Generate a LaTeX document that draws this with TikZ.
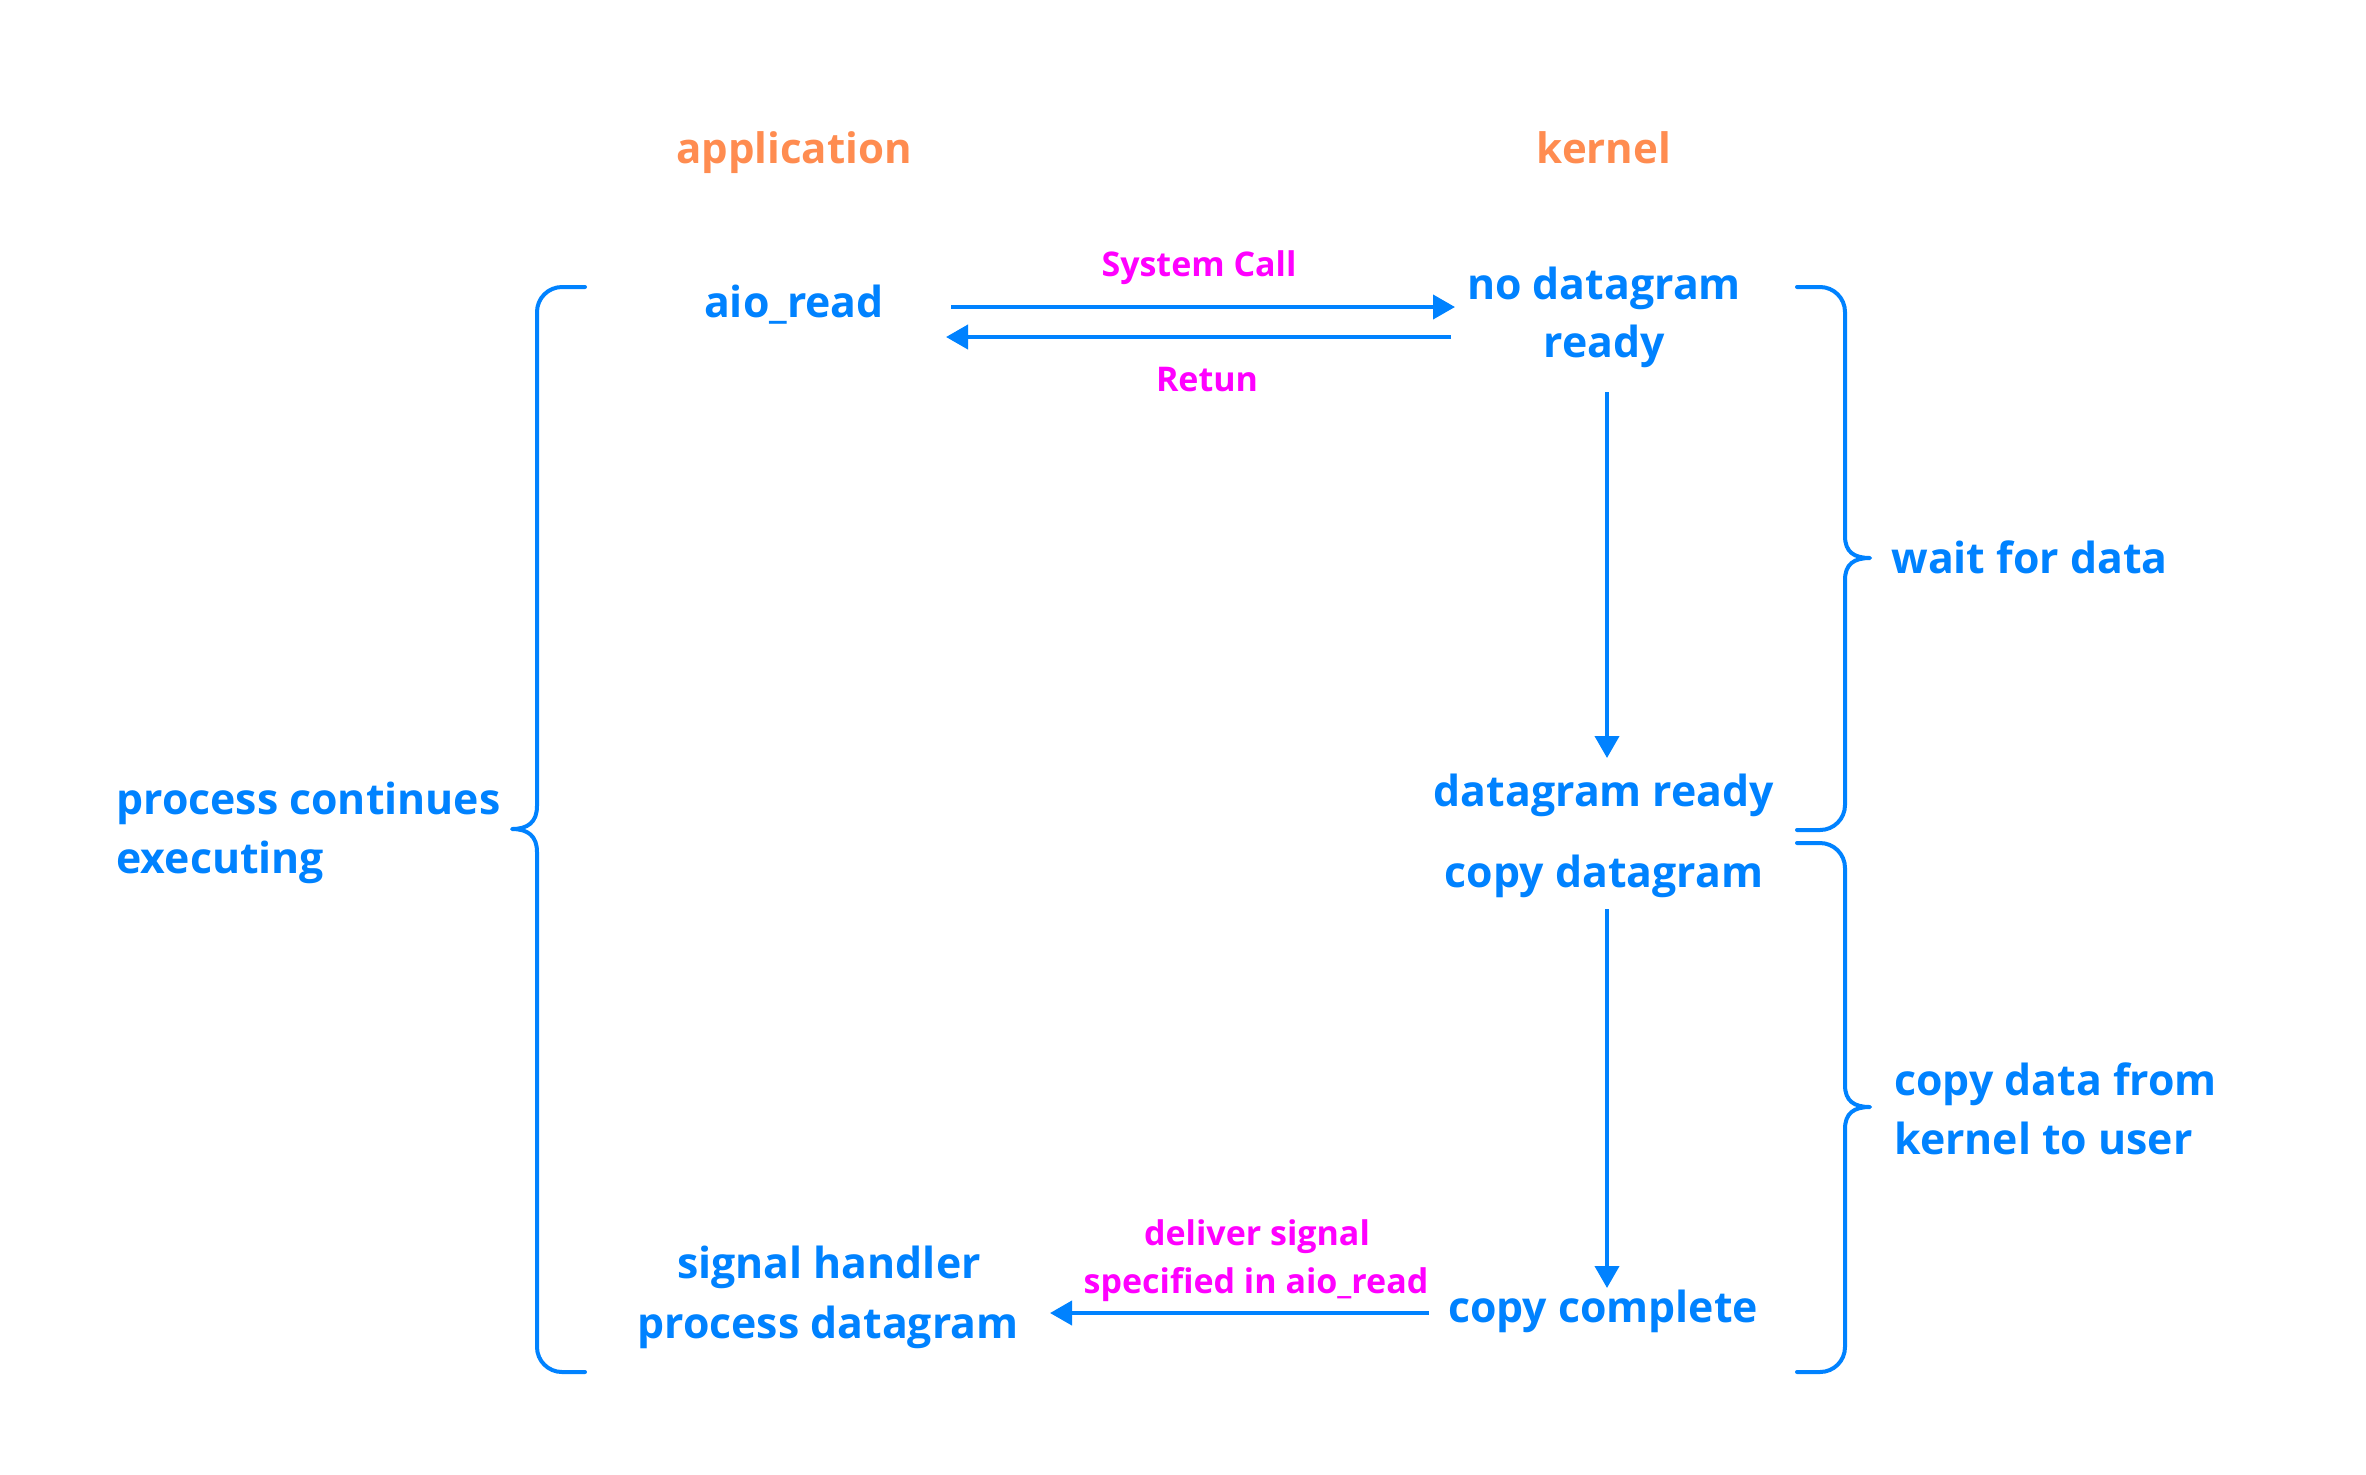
\documentclass[tikz,border=0pt]{standalone}
\usepackage{fontspec}
\setmainfont{Open Sans}
\usetikzlibrary{arrows.meta}
\definecolor{blu}{RGB}{0,130,255}
\definecolor{org}{RGB}{255,140,80}
\definecolor{mag}{RGB}{255,0,255}
\tikzset{
  bt/.style={text=blu, font=\fontsize{21.4pt}{27pt}\selectfont\bfseries, anchor=base, inner sep=0pt},
  btl/.style={bt, anchor=base west},
  ot/.style={text=org, font=\fontsize{21pt}{26pt}\selectfont\bfseries, anchor=base, inner sep=0pt},
  mt/.style={text=mag, font=\fontsize{17pt}{22pt}\selectfont\bfseries, anchor=base, inner sep=0pt},
  arr/.style={draw=blu, line width=2pt, -{Triangle[length=11pt,width=12pt]}},
  br/.style={draw=blu, line width=2pt, line cap=round, line join=round}
}
\begin{document}
\begin{tikzpicture}[x=0.5pt,y=-0.5pt]
\useasboundingbox (0,0) rectangle (2366,1474);
% headers
\node[ot] (app) at (794,163) {application};
\node[ot] (ker) at (1604,163) {kernel};
% application column
\node[bt] (aio) at (794,317) {aio\_read};
\node[bt] (sh1) at (829,1278) {signal handler};
\node[bt] (sh2) at (828,1338) {process datagram};
% kernel column
\node[bt] (nd1) at (1604,299) {no datagram};
\node[bt] (nd2) at (1604,357) {ready};
\node[bt] (dr) at (1604,806) {datagram ready};
\node[bt] (cd) at (1604,887) {copy datagram};
\node[bt] (cc) at (1603,1322) {copy complete};
% labels
\node[mt] (sc) at (1199,276) {System Call};
\node[mt] (rt) at (1207,391) {Retun};
\node[mt] (ds1) at (1257,1245) {deliver signal};
\node[mt] (ds2) at (1256,1293) {specified in aio\_read};
% side texts
\node[btl] (pc1) at (116,814) {process continues};
\node[btl] (pc2) at (116,873) {executing};
\node[btl] (wd) at (1891,573) {wait for data};
\node[btl] (cu1) at (1894,1095) {copy data from};
\node[btl] (cu2) at (1894,1154) {kernel to user};
% arrow end points
\coordinate (a1s) at (951,307);
\coordinate (a1e) at (1455,307);
\coordinate (a2s) at (1451,337);
\coordinate (a2e) at (946,337);
\coordinate (v1s) at (1607,392);
\coordinate (v1e) at (1607,758);
\coordinate (v2s) at (1607,909);
\coordinate (v2e) at (1607,1288);
\coordinate (a3s) at (1429,1313);
\coordinate (a3e) at (1050,1313);
\draw[arr] (a1s) -- (a1e);
\draw[arr] (a2s) -- (a2e);
\draw[arr] (v1s) -- (v1e);
\draw[arr] (v2s) -- (v2e);
\draw[arr] (a3s) -- (a3e);
% left brace
\draw[br] (585,287) -- (562,287) arc[start angle=270,end angle=180,radius=25]
  -- (537,806) .. controls (537,822) and (528,829) .. (512,829)
  .. controls (528,829) and (537,836) .. (537,852)
  -- (537,1347) arc[start angle=180,end angle=90,radius=25] -- (585,1372);
% right brace 1
\draw[br] (1797,287) -- (1820,287) arc[start angle=270,end angle=360,radius=25]
  -- (1845,536) .. controls (1845,552) and (1854,558) .. (1870,558)
  .. controls (1854,558) and (1845,564) .. (1845,580)
  -- (1845,805) arc[start angle=0,end angle=90,radius=25] -- (1797,830);
% right brace 2
\draw[br] (1797,843) -- (1820,843) arc[start angle=270,end angle=360,radius=25]
  -- (1845,1085) .. controls (1845,1101) and (1854,1107) .. (1870,1107)
  .. controls (1854,1107) and (1845,1113) .. (1845,1129)
  -- (1845,1347) arc[start angle=0,end angle=90,radius=25] -- (1797,1372);
\end{tikzpicture}
\end{document}
